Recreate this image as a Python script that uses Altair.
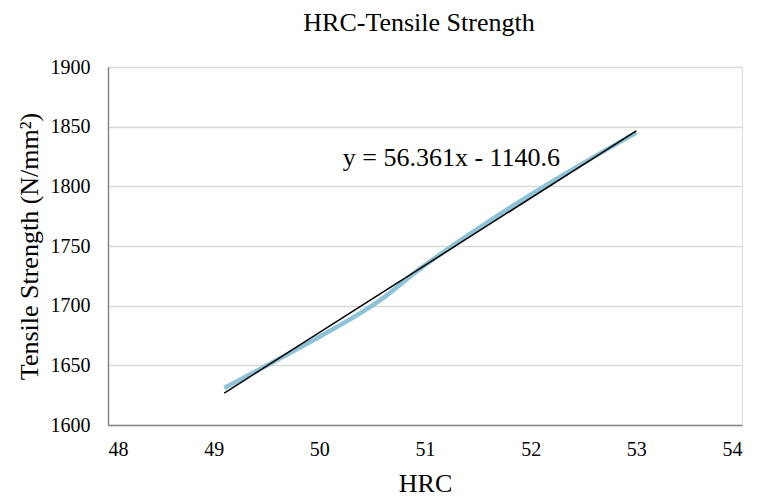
import altair as alt
import pandas as pd

hrc = [49.1, 50.5, 51.0, 52.0, 53.0]
tensile = [1631, 1700, 1734, 1793, 1845]
slope = 56.361
intercept = -1140.6
trend_x = [49.1, 53.0]
eq_label = ["y = 56.361x - 1140.6"]
eq_pos = [51.25, 1824]
x_ticks = [48, 49, 50, 51, 52, 53, 54]
y_ticks = [1600, 1650, 1700, 1750, 1800, 1850, 1900]

FONT = "Liberation Serif, Times New Roman, serif"

df = pd.DataFrame({"HRC": hrc, "TS": tensile})
trend = pd.DataFrame({"HRC": trend_x, "TS": [slope * v + intercept for v in trend_x]})
eq = pd.DataFrame({"HRC": [eq_pos[0]], "TS": [eq_pos[1]], "t": eq_label})

xs = alt.Scale(domain=[48, 54], nice=False, zero=False)
ys = alt.Scale(domain=[1600, 1900], nice=False, zero=False)

xax = alt.Axis(values=x_ticks, format="d", grid=False, ticks=False, labelFont=FONT,
               labelPadding=14, title="HRC", titlePadding=11)
yax = alt.Axis(values=y_ticks, format="d", grid=True, ticks=False, labelFont=FONT,
               labelPadding=18, title="Tensile Strength (N/mm²)", titlePadding=8)

line = alt.Chart(df).mark_line(color="#8DC3D8", strokeWidth=4.5, interpolate="catmull-rom").encode(
    x=alt.X("HRC:Q", scale=xs, axis=xax),
    y=alt.Y("TS:Q", scale=ys, axis=yax),
)
tl = alt.Chart(trend).mark_line(color="#000000", strokeWidth=1.5).encode(
    x=alt.X("HRC:Q", scale=xs), y=alt.Y("TS:Q", scale=ys)
)
txt = alt.Chart(eq).mark_text(font=FONT, fontSize=26, color="#000000", baseline="middle").encode(
    x=alt.X("HRC:Q", scale=xs), y=alt.Y("TS:Q", scale=ys), text="t:N"
)

chart = (line + tl + txt).properties(
    width=634, height=358,
    title=alt.TitleParams("HRC-Tensile Strength", font=FONT, fontSize=26, fontWeight="normal",
                          color="#000000", anchor="middle", offset=21, dx=-6),
    autosize=alt.AutoSizeParams(type="none"),
    padding={"left": 100, "top": 59, "right": 7, "bottom": 72},
).configure_view(stroke=None).configure(background="white").configure_axis(
    labelFont=FONT, labelFontSize=20, labelColor="#000000",
    titleFont=FONT, titleFontSize=26, titleFontWeight="normal", titleColor="#000000",
    domainColor="#868686", domainWidth=1.5, gridColor="#d9d9d9", gridWidth=1.5,
)

chart.save("out.html", embed_options={"renderer": "svg", "actions": False})
